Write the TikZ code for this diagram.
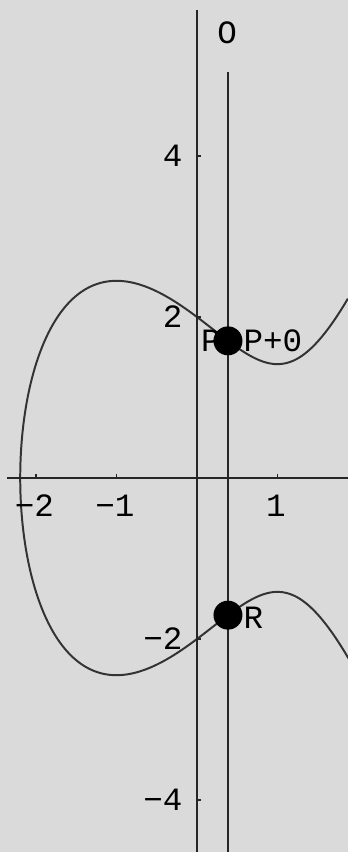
\documentclass[tikz,border=0pt]{standalone}
\usepackage{fontspec}
\setmainfont{Liberation Mono}
\definecolor{plotbg}{RGB}{218,218,218}
\tikzset{
	axis/.style={line width=1pt, black!85},
	curve/.style={line width=0.7pt, black!80},
	dot/.style={circle, fill=black, inner sep=0pt, minimum size=0.36cm},
	lab/.style={font=\fontsize{11.5}{13}\selectfont, inner sep=1pt}
}
\begin{document}
\begin{tikzpicture}[x=1cm,y=1cm]
	\newcommand{\rootx}{-2.1958}
	\newcommand{\pointx}{0.385}
	\newcommand{\pointy}{1.7036}
	\fill[plotbg] (-2.447,-4.646) rectangle (1.876,5.938);
	\useasboundingbox (-2.447,-4.646) rectangle (1.876,5.938);
	% the curve y^2 = x^3 - 3x + 4
	\begin{scope}
		\clip (-2.447,-4.646) rectangle (1.876,5.938);
		\draw[curve] plot[domain=-2.02:2.02, samples=301, smooth]
			({\rootx+\x*\x}, {sign(\x)*sqrt(max(0,(\rootx+\x*\x)^3-3*(\rootx+\x*\x)+4))});
	\end{scope}
	% axes
	\coordinate (xl) at (-2.36,0);
	\coordinate (xr) at (1.876,0);
	\coordinate (yt) at (0,5.814);
	\coordinate (yb) at (0,-4.646);
	\draw[axis] (xl) -- (xr);
	\draw[axis] (yt) -- (yb);
	\foreach \x/\lab in {-2/−2, -1/−1, 1/1}
	{
		\draw[axis, line width=0.6pt] (\x,0) -- (\x,0.05);
		\node[lab, anchor=north] (xt\x) at (\x-0.02,-0.17) {\lab};
	}
	\foreach \y/\lab in {4/4, 2/2, -2/−2, -4/−4}
	{
		\draw[axis, line width=0.6pt] (0,\y) -- (0.05,\y);
		\node[lab, anchor=east] (yt\y) at (-0.14,\y) {\lab};
	}
	% vertical line through P
	\coordinate (vt) at (\pointx,5.043);
	\coordinate (vb) at (\pointx,-4.646);
	\draw[axis] (vt) -- (vb);
	\node[lab] (O) at (\pointx-0.01,5.528) {O};
	% points
	\node[lab, anchor=east] (Plab) at (\pointx-0.05,\pointy) {P};
	\node[dot] (P) at (\pointx,\pointy) {};
	\node[dot] (R) at (\pointx,-\pointy) {};
	\node[lab, anchor=west, inner sep=0pt] (PO) at (P.east) {P+0};
	\node[lab, anchor=west, inner sep=0pt, yshift=-1pt] (Rlab) at (R.east) {R};
\end{tikzpicture}
\end{document}
